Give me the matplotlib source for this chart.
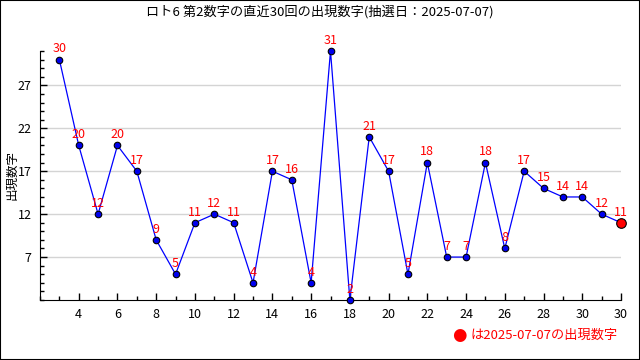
import matplotlib
matplotlib.use("Agg")
import matplotlib.pyplot as plt
from matplotlib.patches import Rectangle
from matplotlib.ticker import MultipleLocator

plt.rcParams["font.family"] = ["Noto Sans CJK JP", "DejaVu Sans"]

# Last 30 draws (oldest -> newest)
draw_idx = list(range(1, 31))
numbers = [30, 20, 12, 20, 17, 9, 5, 11, 12, 11, 4, 17, 16, 4, 31,
           2, 21, 17, 5, 18, 7, 7, 18, 8, 17, 15, 14, 14, 12, 11]

# x tick positions and the labels shown in the original chart
xtick_pos = list(range(2, 31, 2))
xtick_labels = ["4", "6", "8", "10", "12", "14", "16", "18", "20", "22",
                "24", "26", "28", "30", "30"]
ytick_vals = [7, 12, 17, 22, 27]

title = "ロト6 第2数字の直近30回の出現数字(抽選日：2025-07-07)"
latest_date = "2025-07-07"

fig = plt.figure(figsize=(6.4, 3.6), dpi=100)
ax = fig.add_axes([40 / 640, 60 / 360, 581 / 640, 249 / 360])

ax.plot(draw_idx, numbers, color="#0000ff", lw=0.9, zorder=2)
ax.scatter(draw_idx[:-1], numbers[:-1], s=22, color="#0000ee",
           edgecolor="black", linewidth=0.8, zorder=3, clip_on=False)
ax.scatter(draw_idx[-1:], numbers[-1:], s=48, color="#ff0000",
           edgecolor="black", linewidth=0.8, zorder=4, clip_on=False)

for x, y in zip(draw_idx, numbers):
    ax.annotate(str(y), (x, y), xytext=(0, 3), textcoords="offset points",
                ha="center", va="bottom", color="#ff0000", fontsize=9,
                annotation_clip=False, zorder=5)

ax.set_xlim(0, 30)
ax.set_ylim(2, 31)
ax.set_xticks(xtick_pos)
ax.set_xticklabels(xtick_labels)
ax.xaxis.set_minor_locator(MultipleLocator(1))
ax.set_yticks(ytick_vals)
ax.yaxis.set_minor_locator(MultipleLocator(1))
ax.tick_params(which="major", direction="in", length=5, width=1,
               labelsize=9, pad=6)
ax.tick_params(which="minor", direction="in", length=3, width=1)
ax.grid(axis="y", which="major", color="#d4d4d4", lw=1)
ax.set_axisbelow(True)
for s in ["top", "right"]:
    ax.spines[s].set_visible(False)
ax.set_ylabel("出現数字", fontsize=9)
ax.yaxis.set_label_coords(-22 / 581, 0.5)

fig.text(0.5, 1 - 12 / 360, title, ha="center", va="center", fontsize=9.5)
fig.text(452 / 640, 1 - 335 / 360, "●", color="#ff0000", fontsize=12,
         ha="left", va="center", family="DejaVu Sans")
fig.text(618 / 640, 1 - 335 / 360, f"は{latest_date}の出現数字",
         color="#ff0000", fontsize=9.5, ha="right", va="center")

fig.patches.append(Rectangle((0, 0), 1, 1, transform=fig.transFigure,
                             fill=False, edgecolor="black", lw=1.5))

fig.savefig("out.png", dpi=100)
